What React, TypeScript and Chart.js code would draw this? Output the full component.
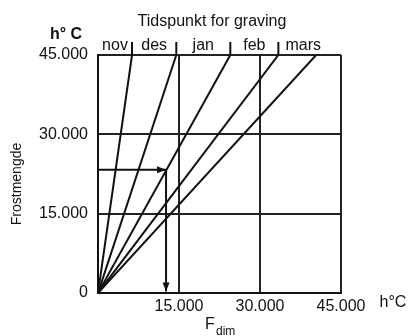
import React, { useEffect, useRef } from "react";
import { Chart, registerables } from "chart.js";

Chart.register(...registerables);

const months = ["nov", "des", "jan", "feb", "mars"];
const monthEnds = [6300, 14500, 24500, 33400, 40400];
const axisMax = 45000;
const tickStep = 15000;
const arrowPath = [
  { x: 0, y: 23300 },
  { x: 12600, y: 23300 },
  { x: 12600, y: 300 },
];
const titleText = "Tidspunkt for graving";
const yUnit = "h\u00B0 C";
const xUnit = "h\u00B0C";
const yTitle = "Frostmengde";

const FONT = "'Liberation Sans', Arial, sans-serif";
const INK = "#111";

function fmt(v: number) {
  if (v === 0) return "0";
  return (v / 1000).toFixed(3);
}

const overlay = {
  id: "overlay",
  afterDraw(chart: any) {
    const { ctx, chartArea, scales } = chart;
    const xs = scales.x;
    const ys = scales.y;
    ctx.save();
    ctx.fillStyle = INK;
    ctx.strokeStyle = INK;
    ctx.lineWidth = 2;

    // top ticks + month labels
    let prev = chartArea.left;
    ctx.font = `16px ${FONT}`;
    ctx.textAlign = "center";
    ctx.textBaseline = "middle";
    monthEnds.forEach((v, i) => {
      const px = xs.getPixelForValue(v);
      if (i < monthEnds.length - 1) {
        ctx.beginPath();
        ctx.moveTo(px, chartArea.top);
        ctx.lineTo(px, chartArea.top - 13);
        ctx.stroke();
      }
      const cx = i === monthEnds.length - 1 ? (prev + px) / 2 + 6 : (prev + px) / 2;
      ctx.fillText(months[i], cx, chartArea.top - 9);
      prev = px;
    });

    // arrowheads
    const drawHead = (p0: any, p1: any) => {
      const x0 = xs.getPixelForValue(p0.x), y0 = ys.getPixelForValue(p0.y);
      const x1 = xs.getPixelForValue(p1.x), y1 = ys.getPixelForValue(p1.y);
      const a = Math.atan2(y1 - y0, x1 - x0);
      const L = 9, W = 3.5;
      ctx.beginPath();
      ctx.moveTo(x1, y1);
      ctx.lineTo(x1 - L * Math.cos(a) + W * Math.sin(a), y1 - L * Math.sin(a) - W * Math.cos(a));
      ctx.lineTo(x1 - L * Math.cos(a) - W * Math.sin(a), y1 - L * Math.sin(a) + W * Math.cos(a));
      ctx.closePath();
      ctx.fill();
    };
    drawHead(arrowPath[0], arrowPath[1]);
    drawHead(arrowPath[1], arrowPath[2]);

    // texts
    ctx.font = `16px ${FONT}`;
    ctx.textAlign = "center";
    ctx.textBaseline = "middle";
    ctx.fillText(titleText, 212, 22);
    ctx.font = `bold 16px ${FONT}`;
    ctx.fillText(yUnit, 66, 35);
    ctx.font = `16px ${FONT}`;
    ctx.fillText(xUnit, 393, 303);
    ctx.fillText("F", 210, 325);
    ctx.font = `12px ${FONT}`;
    ctx.textAlign = "left";
    ctx.fillText("dim", 216, 332);

    ctx.translate(17, 184);
    ctx.rotate(-Math.PI / 2);
    ctx.font = `14px ${FONT}`;
    ctx.textAlign = "center";
    ctx.fillText(yTitle, 0, 0);
    ctx.restore();
  },
};

export default function App() {
  const ref = useRef<HTMLCanvasElement>(null);
  useEffect(() => {
    const lineSets = months.map((m, i) => ({
      label: m,
      data: [
        { x: 0, y: 0 },
        { x: monthEnds[i], y: axisMax },
      ],
      showLine: true,
      borderColor: INK,
      borderWidth: 2,
      pointRadius: 0,
    }));
    const chart = new Chart(ref.current!, {
      type: "scatter",
      data: {
        datasets: [
          ...lineSets,
          {
            label: "arrow",
            data: arrowPath,
            showLine: true,
            borderColor: INK,
            borderWidth: 2,
            pointRadius: 0,
          },
        ],
      },
      options: {
        animation: false,
        responsive: false,
        events: [],
        layout: { padding: { left: 0, top: 55, right: 68, bottom: 0 } },
        plugins: { legend: { display: false }, tooltip: { enabled: false } },
        scales: {
          x: {
            type: "linear",
            min: 0,
            max: axisMax,
            afterFit: (s: any) => {
              s.height = 43;
            },
            ticks: {
              stepSize: tickStep,
              color: INK,
              padding: 4,
              font: { family: FONT, size: 16 },
              callback: (v: any) => (v === 0 ? null : fmt(v)),
              maxRotation: 0,
            },
            grid: { color: "#222", lineWidth: 2, drawTicks: false },
            border: { display: true, color: INK, width: 2 },
          },
          y: {
            type: "linear",
            min: 0,
            max: axisMax,
            afterFit: (s: any) => {
              s.width = 98;
            },
            ticks: {
              stepSize: tickStep,
              color: INK,
              padding: 10,
              font: { family: FONT, size: 16 },
              callback: (v: any) => fmt(v),
            },
            grid: { color: "#222", lineWidth: 2, drawTicks: false },
            border: { display: true, color: INK, width: 2 },
          },
        },
      },
      plugins: [overlay],
    });
    return () => chart.destroy();
  }, []);
  return (
    <div style={{ position: "fixed", left: 0, top: 0, width: 409, height: 336, background: "#fff" }}>
      <canvas ref={ref} width={409} height={336} />
    </div>
  );
}
